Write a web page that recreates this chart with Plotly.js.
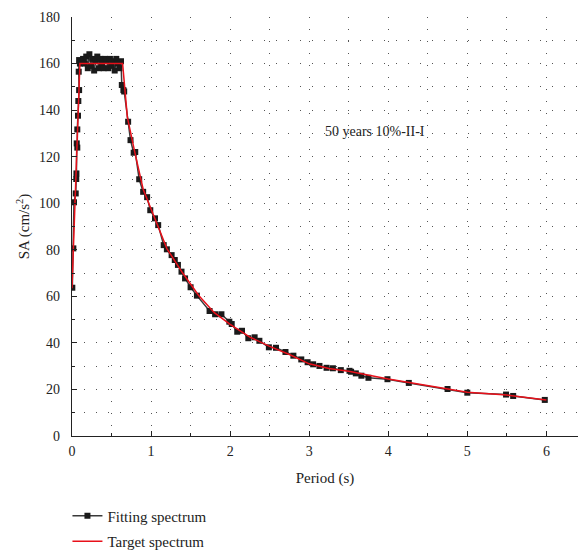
<!DOCTYPE html>
<html>
<head>
<meta charset="utf-8">
<script src="https://cdn.plot.ly/plotly-3.0.1.min.js"></script>
<style>html,body{margin:0;padding:0;background:#fff;}#chart{width:578px;height:555px;}</style>
</head>
<body>
<div id="chart"></div>
<script>
// Fitting spectrum (period s, SA cm/s^2)
const fitPeriod = [0.004, 0.017, 0.025, 0.047, 0.054, 0.056, 0.06, 0.067, 0.067, 0.076, 0.08, 0.09, 0.085, 0.09, 0.1,
  0.12, 0.14, 0.16, 0.18, 0.2, 0.22, 0.24, 0.26, 0.28, 0.3, 0.32, 0.34, 0.36, 0.38, 0.4, 0.42, 0.44, 0.46, 0.48, 0.5,
  0.52, 0.54, 0.56, 0.58, 0.6, 0.62, 0.63, 0.65, 0.66, 0.71, 0.74, 0.78, 0.8, 0.85, 0.9, 0.95, 0.99, 1.05, 1.09, 1.16,
  1.2, 1.26, 1.3, 1.34, 1.385, 1.43, 1.5, 1.58, 1.74, 1.81, 1.89, 1.99, 2.02, 2.09, 2.15, 2.23, 2.31, 2.37, 2.49, 2.58,
  2.7, 2.8, 2.9, 2.98, 3.05, 3.13, 3.22, 3.3, 3.4, 3.51, 3.53, 3.59, 3.66, 3.75, 3.99, 4.26, 4.75, 5.0, 5.49, 5.58, 5.98];
const fitSA = [63.7, 80.6, 100.4, 104.2, 110.4, 112.8, 125.7, 123.9, 131.7, 137.6, 143.9, 148.6, 156.5, 161.5, 160,
  161, 162, 160, 163, 158, 164, 159, 162, 157, 161, 163, 158, 162, 160, 158, 162, 161, 158, 162, 159,
  161, 157, 162, 160, 158, 161, 150.8, 148.6, 148, 135, 127.1, 121.7, 122, 110.3, 104.9, 102.6, 97, 93.5, 90.6, 82,
  80.2, 77.7, 75.6, 73.5, 70.6, 67.7, 63.9, 60.3, 53.7, 52.3, 52.3, 49.1, 48.1, 44.8, 45.2, 42, 42.4, 40.9, 38.1, 37.9,
  36.1, 34.5, 32.9, 31.7, 30.8, 30.1, 29.3, 29.1, 28.3, 28.0, 27.6, 26.9, 25.9, 25.0, 24.4, 22.8, 20.2, 18.6, 17.8, 17.2, 15.5];

// Target spectrum
const tgtPeriod = [0, 0.1, 0.64, 0.7, 0.8, 0.9, 1.0, 1.2, 1.4, 1.6, 1.8, 2.0, 2.25, 2.5, 2.75, 3.0, 3.25, 3.5, 4.0, 4.5, 5.0, 5.5, 6.0];
const tgtSA = [63.5, 160, 160, 137, 121, 106, 97.5, 80.5, 70, 60.5, 53, 48, 42.5, 38.5, 35, 31, 29, 27.8, 24.5, 21.5, 18.8, 17.6, 15.5];

const xTickVals = [0, 1, 2, 3, 4, 5, 6];
const yTickVals = [0, 20, 40, 60, 80, 100, 120, 140, 160, 180];
const annotationText = '50 years 10%-II-I';

const serif = 'Liberation Serif, Times New Roman, serif';

const traces = [
  {x: fitPeriod, y: fitSA, name: 'Fitting spectrum', type: 'scatter', mode: 'lines+markers', legendgroup: 'fit',
   line: {color: '#3a3a3a', width: 1.5}, marker: {symbol: 'square', size: 6, color: '#1a1a1a'}},
  {x: tgtPeriod, y: tgtSA, name: 'Target spectrum', type: 'scatter', mode: 'lines', legendgroup: 'tgt',
   line: {color: '#e8101a', width: 1.5}}
];

const gridDash = '1px,11px';
const layout = {
  width: 578, height: 555,
  margin: {l: 72, r: 0, t: 17, b: 119},
  paper_bgcolor: '#fff', plot_bgcolor: '#fff',
  font: {family: serif, size: 14, color: '#222'},
  showlegend: true,
  legend: {x: -0.009, xanchor: 'left', y: 0.1, yanchor: 'top', yref: 'container',
    orientation: 'v', font: {family: serif, size: 15, color: '#222'}, bgcolor: 'rgba(0,0,0,0)',
    itemwidth: 30, tracegroupgap: 3},
  xaxis: {
    range: [0, 6.4], tickvals: xTickVals, ticks: 'inside', ticklen: 5, tickwidth: 1, tickcolor: '#222',
    showline: true, linecolor: '#222', linewidth: 1.2, zeroline: false, ticklabelstandoff: 2,
    showgrid: true, gridcolor: '#555', griddash: gridDash, gridwidth: 1,
    minor: {dtick: 0.5, ticks: 'inside', ticklen: 3, tickcolor: '#222', showgrid: true, gridcolor: '#555', griddash: gridDash},
    title: {text: 'Period (s)', font: {family: serif, size: 15, color: '#222'}, standoff: 14},
    tickfont: {family: serif, size: 14, color: '#222'}
  },
  yaxis: {
    range: [0, 180], tickvals: yTickVals, ticks: 'inside', ticklen: 5, tickwidth: 1, tickcolor: '#222',
    showline: true, linecolor: '#222', linewidth: 1.2, zeroline: false, ticklabelstandoff: 8,
    showgrid: true, gridcolor: '#555', griddash: gridDash, gridwidth: 1,
    minor: {dtick: 10, ticks: 'inside', ticklen: 3, tickcolor: '#222', showgrid: true, gridcolor: '#555', griddash: gridDash},
    title: {text: 'SA (cm/s<sup>2</sup>)', font: {family: serif, size: 15, color: '#222'}, standoff: 5},
    tickfont: {family: serif, size: 14, color: '#222'}
  },
  annotations: [{x: 3.83, y: 131, xref: 'x', yref: 'y', text: annotationText, showarrow: false,
    font: {family: serif, size: 14, color: '#222'}}]
};

Plotly.newPlot('chart', traces, layout, {displayModeBar: false, staticPlot: true});
</script>
</body>
</html>
